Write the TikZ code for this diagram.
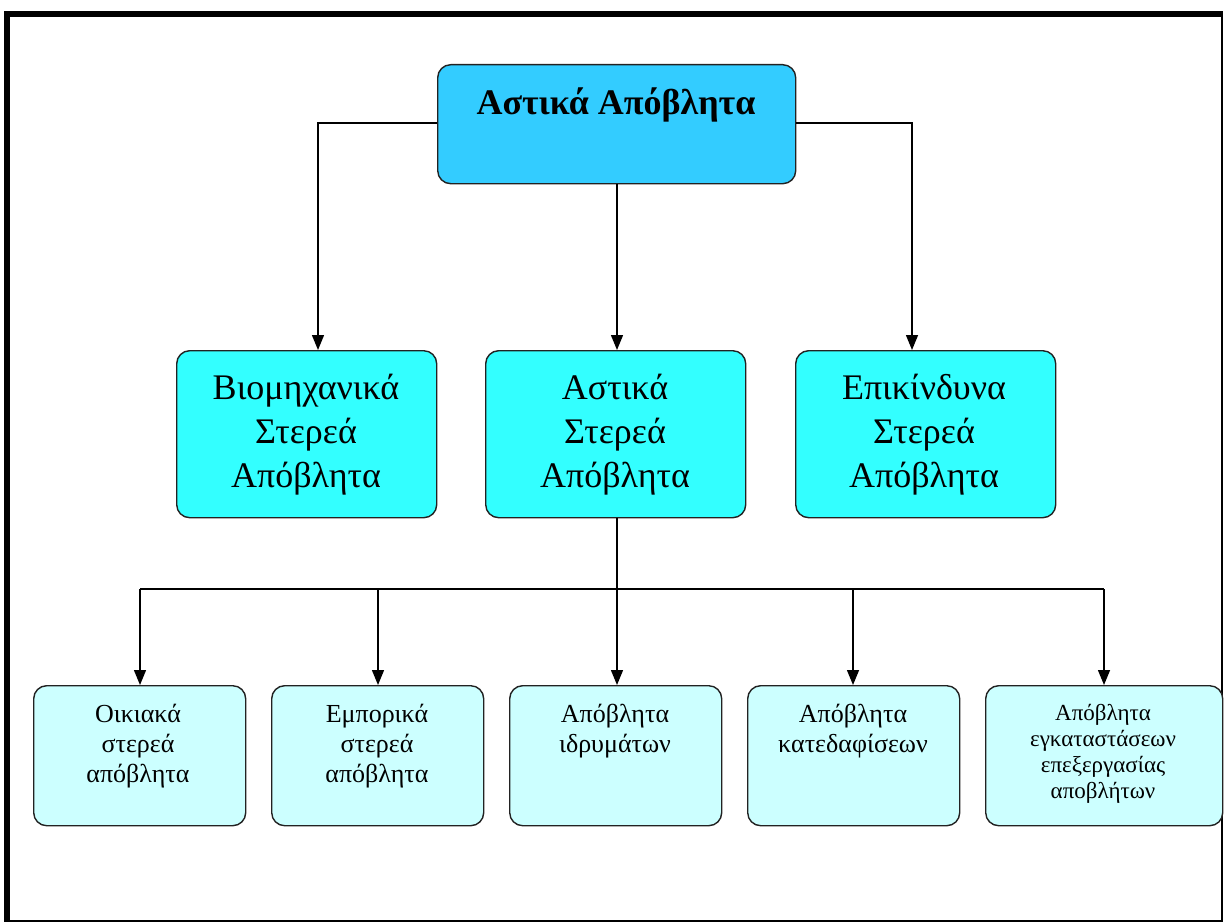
\documentclass[tikz,border=0pt]{standalone}
\usepackage{fontspec}
\setmainfont{Liberation Serif}
\usetikzlibrary{arrows.meta}
\definecolor{topblue}{HTML}{33CCFF}
\definecolor{midcyan}{HTML}{33FFFF}
\definecolor{lowcyan}{HTML}{CCFFFF}
\definecolor{edgegray}{HTML}{222222}
\tikzset{
  x=1pt, y=-1pt,
  boxbase/.style={draw=edgegray, line width=1.4pt, rounded corners=13pt, inner sep=0pt, anchor=north west},
  topbox/.style={boxbase, fill=topblue, minimum width=358pt, minimum height=119pt},
  midbox/.style={boxbase, fill=midcyan, minimum width=260pt, minimum height=167pt},
  lowbox/.style={boxbase, fill=lowcyan, minimum width=212pt, minimum height=140pt},
  lastbox/.style={lowbox, minimum width=237pt},
  midtxt/.style={anchor=north, align=center, inner sep=0pt, font=\fontsize{36}{44}\selectfont},
  lowtxt/.style={anchor=north, align=center, inner sep=0pt, font=\fontsize{26}{30}\selectfont},
  lasttxt/.style={anchor=north, align=center, inner sep=0pt, font=\fontsize{23}{26}\selectfont},
  conn/.style={line width=1.4pt, black},
  arr/.style={conn, -{Triangle[length=15pt,width=12pt]}},
}
\begin{document}
\begin{tikzpicture}
\useasboundingbox (0,0) rectangle (1225,923);
% frame
\fill[black] (4,11) rectangle (1223,17);
\fill[black] (4,11) rectangle (10,922);
\draw[line width=2pt] (1222,17) -- (1222,921) -- (10,921);

% boxes
\node[topbox] (top) at (437,64) {};
\node[midbox] (mL) at (176,350) {};
\node[midbox] (mC) at (485,350) {};
\node[midbox] (mR) at (795,350) {};
\node[lowbox] (b1) at (33,685) {};
\node[lowbox] (b2) at (271,685) {};
\node[lowbox] (b3) at (509,685) {};
\node[lowbox] (b4) at (747,685) {};
\node[lastbox] (b5) at (985,685) {};

% texts
\node[anchor=north, inner sep=0pt, font=\fontsize{36}{44}\selectfont\bfseries] (ttop) at (616,88) {Αστικά Απόβλητα};
\node[midtxt] (tL) at (306,374) {Βιομηχανικά\\Στερεά\\Απόβλητα};
\node[midtxt] (tC) at (615,374) {Αστικά\\Στερεά\\Απόβλητα};
\node[midtxt] (tR) at (924,374) {Επικίνδυνα\\Στερεά\\Απόβλητα};
\node[lowtxt] (t1) at (138,704) {Οικιακά\\στερεά\\απόβλητα};
\node[lowtxt] (t2) at (377,704) {Εμπορικά\\στερεά\\απόβλητα};
\node[lowtxt] (t3) at (615,704) {Απόβλητα\\ιδρυμάτων};
\node[lowtxt] (t4) at (853,704) {Απόβλητα\\κατεδαφίσεων};
\node[lasttxt] (t5) at (1103,704) {Απόβλητα\\εγκαταστάσεων\\επεξεργασίας\\αποβλήτων};

% connectors
\coordinate (jL) at (318,123);
\coordinate (jR) at (912,123);
\coordinate (hub) at (617,589);
\draw[arr] (top.west |- jL) -- (jL) -- (jL |- mL.north);
\draw[arr] (top.east |- jR) -- (jR) -- (jR |- mR.north);
\draw[arr] (top.south -| hub) -- (hub |- mC.north);
\draw[conn] (mC.south -| hub) -- (hub);
\coordinate (h1) at (140,589);
\coordinate (h2) at (378,589);
\coordinate (h4) at (853,589);
\coordinate (h5) at (1104,589);
\draw[conn] (h1) -- (h5);
\draw[arr] (h1) -- (h1 |- b1.north);
\draw[arr] (h2) -- (h2 |- b2.north);
\draw[arr] (hub) -- (hub |- b3.north);
\draw[arr] (h4) -- (h4 |- b4.north);
\draw[arr] (h5) -- (h5 |- b5.north);
\end{tikzpicture}
\end{document}
